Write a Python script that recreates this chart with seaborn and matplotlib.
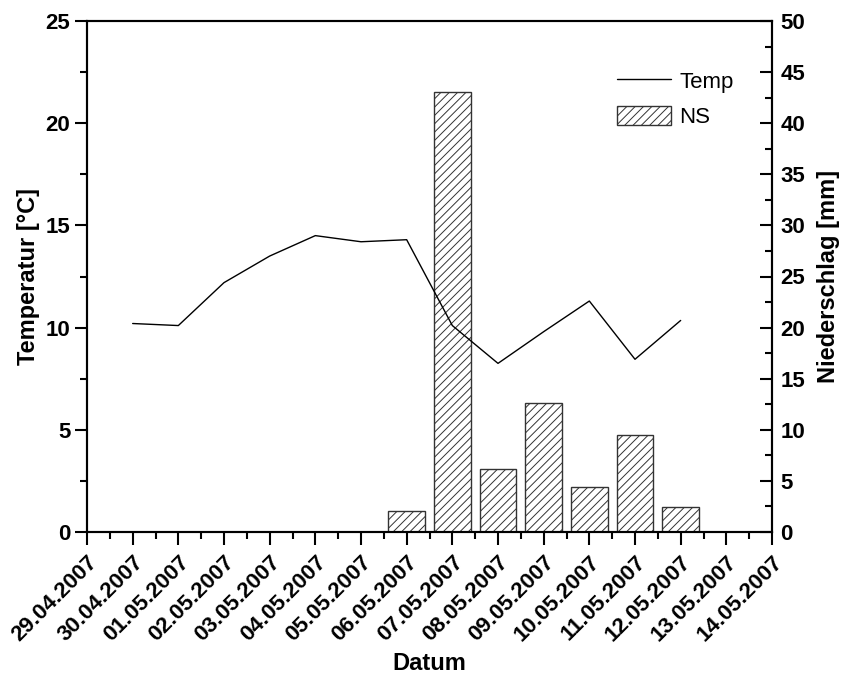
import matplotlib
matplotlib.use("Agg")
import matplotlib.pyplot as plt
from matplotlib.lines import Line2D
from matplotlib.patches import Patch
from matplotlib.ticker import MultipleLocator
import numpy as np
import pandas as pd
import seaborn as sns

# Date axis (day index 0 = 29.04.2007)
dates = ["29.04.2007", "30.04.2007", "01.05.2007", "02.05.2007", "03.05.2007",
         "04.05.2007", "05.05.2007", "06.05.2007", "07.05.2007", "08.05.2007",
         "09.05.2007", "10.05.2007", "11.05.2007", "12.05.2007", "13.05.2007",
         "14.05.2007"]

# Daily mean temperature [°C], 30.04 - 12.05
temp_days = [1, 2, 3, 4, 5, 6, 7, 8, 9, 10, 11, 12, 13]
temp = [10.2, 10.1, 12.2, 13.5, 14.5, 14.2, 14.3, 10.1, 8.25, 9.8, 11.3, 8.45, 10.35]

# Daily precipitation [mm], 06.05 - 12.05
ns_days = [7, 8, 9, 10, 11, 12, 13]
ns = [2.1, 43.1, 6.2, 12.6, 4.4, 9.5, 2.4]

sns.set_theme(style="white")
plt.rcParams["font.family"] = ["Liberation Sans", "DejaVu Sans"]
plt.rcParams["hatch.linewidth"] = 0.7
for key in ("text.color", "axes.labelcolor", "xtick.color", "ytick.color",
            "axes.edgecolor"):
    plt.rcParams[key] = "black"

fig = plt.figure(figsize=(8.43, 6.78), dpi=100)
ax = fig.add_axes([87 / 843, 1 - 532 / 678, (772 - 87) / 843, (532 - 21) / 678])
ax2 = ax.twinx()

# Precipitation bars on the right axis
ns_df = pd.DataFrame({"day": ns_days, "ns": ns})
sns.barplot(data=ns_df, x="day", y="ns", native_scale=True, width=0.8,
            color="white", edgecolor="#333333", linewidth=1.0, ax=ax2)
for p in ax2.patches:
    p.set_hatch("////")

# Temperature line on the left axis
temp_df = pd.DataFrame({"day": temp_days, "temp": temp})
sns.lineplot(data=temp_df, x="day", y="temp", color="black", linewidth=1.0, ax=ax)

ax.set_zorder(ax2.get_zorder() + 1)
ax.patch.set_visible(False)

x_pos = np.arange(len(dates))
ax.set_xlim(0, len(dates) - 1)
ax2.set_xlim(0, len(dates) - 1)
ax.set_ylim(0, 25)
ax2.set_ylim(0, 50)

ax.set_xticks(x_pos)
ax.set_xticklabels(dates, rotation=45, ha="right", rotation_mode="anchor",
                   fontsize=16, fontweight="bold")
ax.xaxis.set_minor_locator(MultipleLocator(0.5))
ax.yaxis.set_major_locator(MultipleLocator(5))
ax.yaxis.set_minor_locator(MultipleLocator(2.5))
ax2.yaxis.set_major_locator(MultipleLocator(5))
ax2.yaxis.set_minor_locator(MultipleLocator(2.5))

for lab in ax.get_yticklabels() + ax2.get_yticklabels():
    lab.set_fontsize(16)
    lab.set_fontweight("bold")

ax.tick_params(axis="x", which="major", direction="out", length=9, width=1.5,
               bottom=True, top=False, pad=5)
ax.tick_params(axis="x", which="minor", direction="out", length=5, width=1.5,
               bottom=True, top=False)
ax.tick_params(axis="y", which="major", direction="out", length=9, width=1.5,
               left=True, right=False, pad=3)
ax.tick_params(axis="y", which="minor", direction="out", length=5, width=1.5,
               left=True, right=False)
ax2.tick_params(axis="y", which="major", direction="in", length=9, width=1.5,
                right=True, left=False, pad=6)
ax2.tick_params(axis="y", which="minor", direction="in", length=5, width=1.5,
                right=True, left=False)
ax2.tick_params(axis="x", which="both", bottom=False, top=False, labelbottom=False)

for a in (ax, ax2):
    for s in a.spines.values():
        s.set_color("black")
        s.set_linewidth(1.5)

ax.set_xlabel("Datum", fontsize=17, fontweight="bold")
ax.set_ylabel("Temperatur [°C]", fontsize=17, fontweight="bold")
ax2.set_ylabel("Niederschlag [mm]", fontsize=17, fontweight="bold")
ax.xaxis.set_label_coords(0.5, -0.235)
ax.yaxis.set_label_coords(-0.0686, 0.5)
ax2.yaxis.set_label_coords(1.066, 0.5)

handles = [Line2D([0], [0], color="black", linewidth=1.0),
           Patch(facecolor="white", edgecolor="#333333", hatch="////", linewidth=1.0)]
ax.legend(handles, ["Temp", "NS"], loc="upper left",
          bbox_to_anchor=(617 / 843, 1 - 71 / 678), bbox_transform=fig.transFigure,
          frameon=False, fontsize=16, handlelength=2.45, handleheight=0.9,
          handletextpad=0.35, labelspacing=0.6, borderpad=0, borderaxespad=0)

fig.savefig("out.png", dpi=100)
